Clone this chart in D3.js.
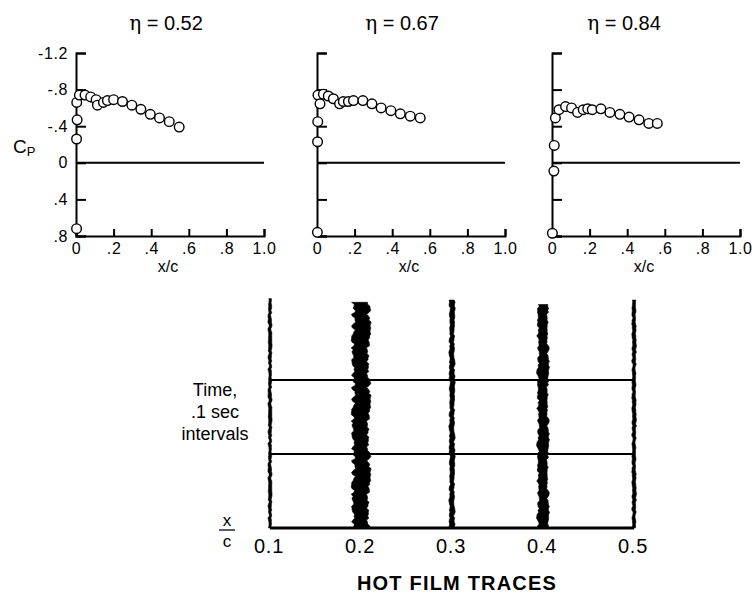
<!DOCTYPE html>
<html>
<head>
<meta charset="utf-8">
<script src="https://cdn.jsdelivr.net/npm/d3@7"></script>
<style>
  body { margin: 0; background: #fff; }
  text { font-family: "Liberation Sans", Arial, sans-serif; fill: #000; }
</style>
</head>
<body>
<svg id="chart" width="754" height="597"></svg>
<script>
// span stations (eta) for the three pressure plots
const etas = ['0.52', '0.67', '0.84'];

// Cp distributions
const xc1 = [0.003, 0.003, 0.006, 0.004, 0.018, 0.048, 0.078, 0.107, 0.114, 0.146, 0.167, 0.2, 0.247, 0.297, 0.345, 0.395, 0.444, 0.496, 0.549];
const cp1 = [0.72, -0.26, -0.47, -0.66, -0.74, -0.74, -0.72, -0.69, -0.63, -0.66, -0.68, -0.69, -0.67, -0.63, -0.585, -0.53, -0.49, -0.45, -0.39];
const xc2 = [0.002, 0.003, 0.004, 0.005, 0.016, 0.034, 0.06, 0.087, 0.12, 0.14, 0.167, 0.194, 0.244, 0.292, 0.341, 0.393, 0.443, 0.496, 0.549];
const cp2 = [0.76, -0.23, -0.45, -0.74, -0.645, -0.75, -0.73, -0.70, -0.645, -0.67, -0.67, -0.68, -0.68, -0.645, -0.60, -0.57, -0.535, -0.51, -0.49];
const xc3 = [0.002, 0.01, 0.012, 0.018, 0.037, 0.072, 0.104, 0.136, 0.166, 0.19, 0.214, 0.26, 0.308, 0.361, 0.41, 0.463, 0.515, 0.56];
const cp3 = [0.77, 0.09, -0.19, -0.49, -0.58, -0.615, -0.60, -0.55, -0.58, -0.59, -0.58, -0.59, -0.55, -0.53, -0.50, -0.47, -0.43, -0.43];

const cpTicks = [-1.2, -0.8, -0.4, 0, 0.4, 0.8];
const cpLabels = ['-1.2', '-.8', '-.4', '0', '.4', '.8'];
const xcTicks = [0, 0.2, 0.4, 0.6, 0.8, 1.0];
const xcLabels = ['0', '.2', '.4', '.6', '.8', '1.0'];

// hot film traces
const filmStations = [0.1, 0.2, 0.3, 0.4, 0.5];
const filmLabels = ['0.1', '0.2', '0.3', '0.4', '0.5'];
const filmLevel = [0.2, 1.7, 0.4, 1.0, 0.25];       // relative fluctuation level
const filmStart = [0.31, 0.305, 0.308, 0.302, 0.308]; // s, top end of each trace
const timeLines = [0, 0.1, 0.2];
// hand traced roughness of the trace edges
const roughness = [0.2, -0.6, 0.9, -0.1, 0.5, -0.9, 0.3, 0.7, -0.4, 0.1, -0.8, 0.6, 0.0, -0.3, 0.8, -0.7,
  0.4, -0.2, 0.9, -0.5, 0.2, 0.6, -0.9, 0.1, -0.4, 0.7, -0.1, 0.3, -0.6, 0.5, -0.8, 0.0, 0.6, -0.3, 0.9, -0.7, 0.1];

const svg = d3.select('#chart');

const panels = [
  { eta: etas[0], xc: xc1, cp: cp1, x0: 76, titleDx: 90, labels: true },
  { eta: etas[1], xc: xc2, cp: cp2, x0: 317, titleDx: 85, labels: false },
  { eta: etas[2], xc: xc3, cp: cp3, x0: 552, titleDx: 72, labels: false }
];

const y = d3.scaleLinear().domain([-1.2, 0.8]).range([53, 236]);

panels.forEach(p => {
  const x = d3.scaleLinear().domain([0, 1]).range([p.x0, p.x0 + 188]);
  const g = svg.append('g');

  const yAxis = d3.axisLeft(y).tickValues(cpTicks)
    .tickSizeInner(-10).tickSizeOuter(-10).tickPadding(8)
    .tickFormat((d, i) => p.labels ? cpLabels[i] : '');
  g.append('g').attr('transform', `translate(${p.x0},0)`).call(yAxis)
    .call(a => a.selectAll('path,line').attr('stroke', '#000').attr('stroke-width', 2))
    .call(a => a.selectAll('text').attr('font-size', 16).attr('letter-spacing', 0.6).attr('fill', '#000'));

  const xAxis = d3.axisBottom(x).tickValues(xcTicks)
    .tickSizeInner(-7).tickSizeOuter(-7).tickPadding(7)
    .tickFormat((d, i) => xcLabels[i]);
  g.append('g').attr('transform', `translate(0,${y(0.8)})`).call(xAxis)
    .call(a => a.selectAll('path,line').attr('stroke', '#000').attr('stroke-width', 2))
    .call(a => a.selectAll('text').attr('font-size', 16).attr('letter-spacing', 0.6).attr('fill', '#000'));

  g.append('line')
    .attr('x1', x(0)).attr('x2', x(1)).attr('y1', y(0)).attr('y2', y(0))
    .attr('stroke', '#000').attr('stroke-width', 2);

  g.append('text').attr('x', p.x0 + 92).attr('y', 272)
    .attr('text-anchor', 'middle').attr('font-size', 16).text('x/c');

  const title = g.append('text').attr('x', p.x0 + p.titleDx).attr('y', 30)
    .attr('text-anchor', 'middle').attr('font-size', 20);
  title.append('tspan').attr('style', 'font-family:"DejaVu Serif",serif').text('η');
  title.append('tspan').text(' = ' + p.eta);

  g.selectAll('circle').data(d3.zip(p.xc, p.cp)).enter().append('circle')
    .attr('cx', d => x(d[0]))
    .attr('cy', d => y(d[1]))
    .attr('r', 4.8)
    .attr('fill', '#fff').attr('stroke', '#000').attr('stroke-width', 1.4);
});

// Cp axis title, between the -.4 and 0 labels
const cpT = svg.append('text').attr('x', 13).attr('y', 153).attr('font-size', 19);
cpT.append('tspan').text('C');
cpT.append('tspan').attr('font-size', 13).attr('dy', 3).text('P');

// ---- hot film traces ----
const fx = d3.scaleLinear().domain([0.1, 0.5]).range([270, 634]);
const ft = d3.scaleLinear().domain([0, 0.2]).range([528, 380]);
const amp = d3.scaleLinear().domain([0, 1]).range([0.6, 4.8]);

const hf = svg.append('g');

hf.selectAll('line.time').data(timeLines).enter().append('line')
  .attr('class', 'time')
  .attr('x1', fx(0.1)).attr('x2', fx(0.5))
  .attr('y1', d => ft(d)).attr('y2', d => ft(d))
  .attr('stroke', '#000').attr('stroke-width', d => d === 0 ? 3 : 2);

filmStations.forEach((s, i) => {
  const n = roughness.length;
  const steps = 115;
  const t0 = filmStart[i];
  const pts = d3.range(steps).map(k => t0 * k / (steps - 1));
  const w = amp(filmLevel[i]);
  const mid = k => fx(s) + 0.5 * roughness[(k * 3 + i * 5) % n];
  const left = pts.map((t, k) => [mid(k) - w * (1 + 0.3 * roughness[(k * 5 + i * 3) % n]), ft(t)]);
  const right = pts.map((t, k) => [mid(k) + w * (1 + 0.3 * roughness[(k * 7 + i * 11 + 3) % n]), ft(t)]).reverse();
  hf.append('path')
    .attr('d', d3.line()(left.concat(right)) + 'Z')
    .attr('fill', '#000').attr('stroke', '#000').attr('stroke-width', 0.6);
});

hf.selectAll('text.fl').data(filmStations).enter().append('text')
  .attr('class', 'fl')
  .attr('x', d => fx(d) - 1).attr('y', 553)
  .attr('text-anchor', 'middle').attr('font-size', 20).attr('letter-spacing', 0.8)
  .text((d, i) => filmLabels[i]);

// x over c fraction
hf.append('text').attr('x', 227).attr('y', 526).attr('text-anchor', 'middle').attr('font-size', 17).text('x');
hf.append('line').attr('x1', 219).attr('x2', 235).attr('y1', 530).attr('y2', 530).attr('stroke', '#000').attr('stroke-width', 1.3);
hf.append('text').attr('x', 227).attr('y', 547).attr('text-anchor', 'middle').attr('font-size', 17).text('c');

const tl = hf.append('text').attr('text-anchor', 'middle').attr('font-size', 18);
[['Time,', 396], ['.1 sec', 418], ['intervals', 440]].forEach(([s, yy]) =>
  tl.append('tspan').attr('x', 215).attr('y', yy).text(s));

hf.append('text').attr('x', 457).attr('y', 590).attr('text-anchor', 'middle')
  .attr('font-size', 20).attr('letter-spacing', 1.2).attr('font-weight', 'bold').text('HOT FILM TRACES');
</script>
</body>
</html>
